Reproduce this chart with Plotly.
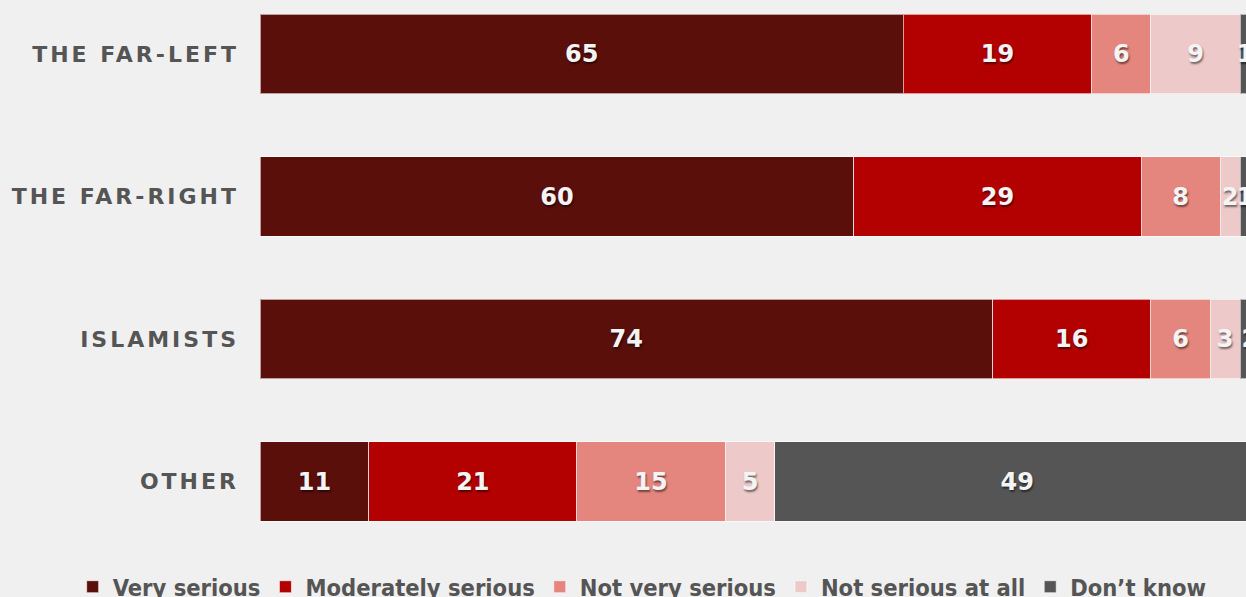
import plotly.graph_objects as go

categories = ["OTHER", "ISLAMISTS", "THE FAR-RIGHT", "THE FAR-LEFT"]
series_names = ["Very serious", "Moderately serious", "Not very serious", "Not serious at all", "Don’t know"]
very_serious = [11, 74, 60, 65]
moderately_serious = [21, 16, 29, 19]
not_very_serious = [15, 6, 8, 6]
not_serious_at_all = [5, 3, 2, 9]
dont_know = [49, 2, 1, 1]
colors = ["#5a0f0b", "#b30000", "#e5867e", "#edc9c9", "#555555"]

values = [very_serious, moderately_serious, not_very_serious, not_serious_at_all, dont_know]

fig = go.Figure()
for name, vals, col in zip(series_names, values, colors):
    fig.add_trace(go.Bar(
        y=categories, x=vals, name=name, orientation="h",
        marker=dict(color=col, line=dict(color="rgba(255,255,255,0.6)", width=1)),
        text=[str(v) for v in vals], textposition="inside", insidetextanchor="middle",
        textfont=dict(family="DejaVu Sans", size=24, color="#f4f4f4", weight="bold",
                      shadow="1px 2px 2px rgba(0,0,0,0.5)"),
        width=0.56,
    ))

fig.update_layout(
    barmode="stack",
    width=1246, height=597,
    paper_bgcolor="#f0f0f0", plot_bgcolor="#f0f0f0",
    margin=dict(l=260, r=0, t=0, b=60, autoexpand=False),
    uniformtext=dict(mode="show", minsize=24),
    xaxis=dict(range=[0, 99.6], visible=False, showgrid=False, zeroline=False),
    yaxis=dict(categoryorder="array", categoryarray=categories, range=[-0.389, 3.379],
               showgrid=False, zeroline=False, ticks="", ticklabelstandoff=20,
               tickfont=dict(family="DejaVu Sans", size=22, color="#555555", weight="bold")),
    legend=dict(orientation="h", x=-0.19, xanchor="left", y=-0.093, yanchor="middle",
                font=dict(family="DejaVu Sans Condensed, DejaVu Sans", size=23.5, color="#555555", weight="bold"),
                itemwidth=30, traceorder="normal"),
    showlegend=True,
)

post_js = """
document.body.style.margin = '0';
document.body.style.background = '#f0f0f0';
document.body.style.overflow = 'hidden';
var gd = document.getElementById('{plot_id}');
function spaceTicks() {
  gd.querySelectorAll('.ytick text').forEach(function(t) { t.style.letterSpacing = '3px'; });
}
spaceTicks();
gd.on('plotly_afterplot', spaceTicks);
"""

fig.write_html("out.html", post_script=post_js, config={"displayModeBar": False})
